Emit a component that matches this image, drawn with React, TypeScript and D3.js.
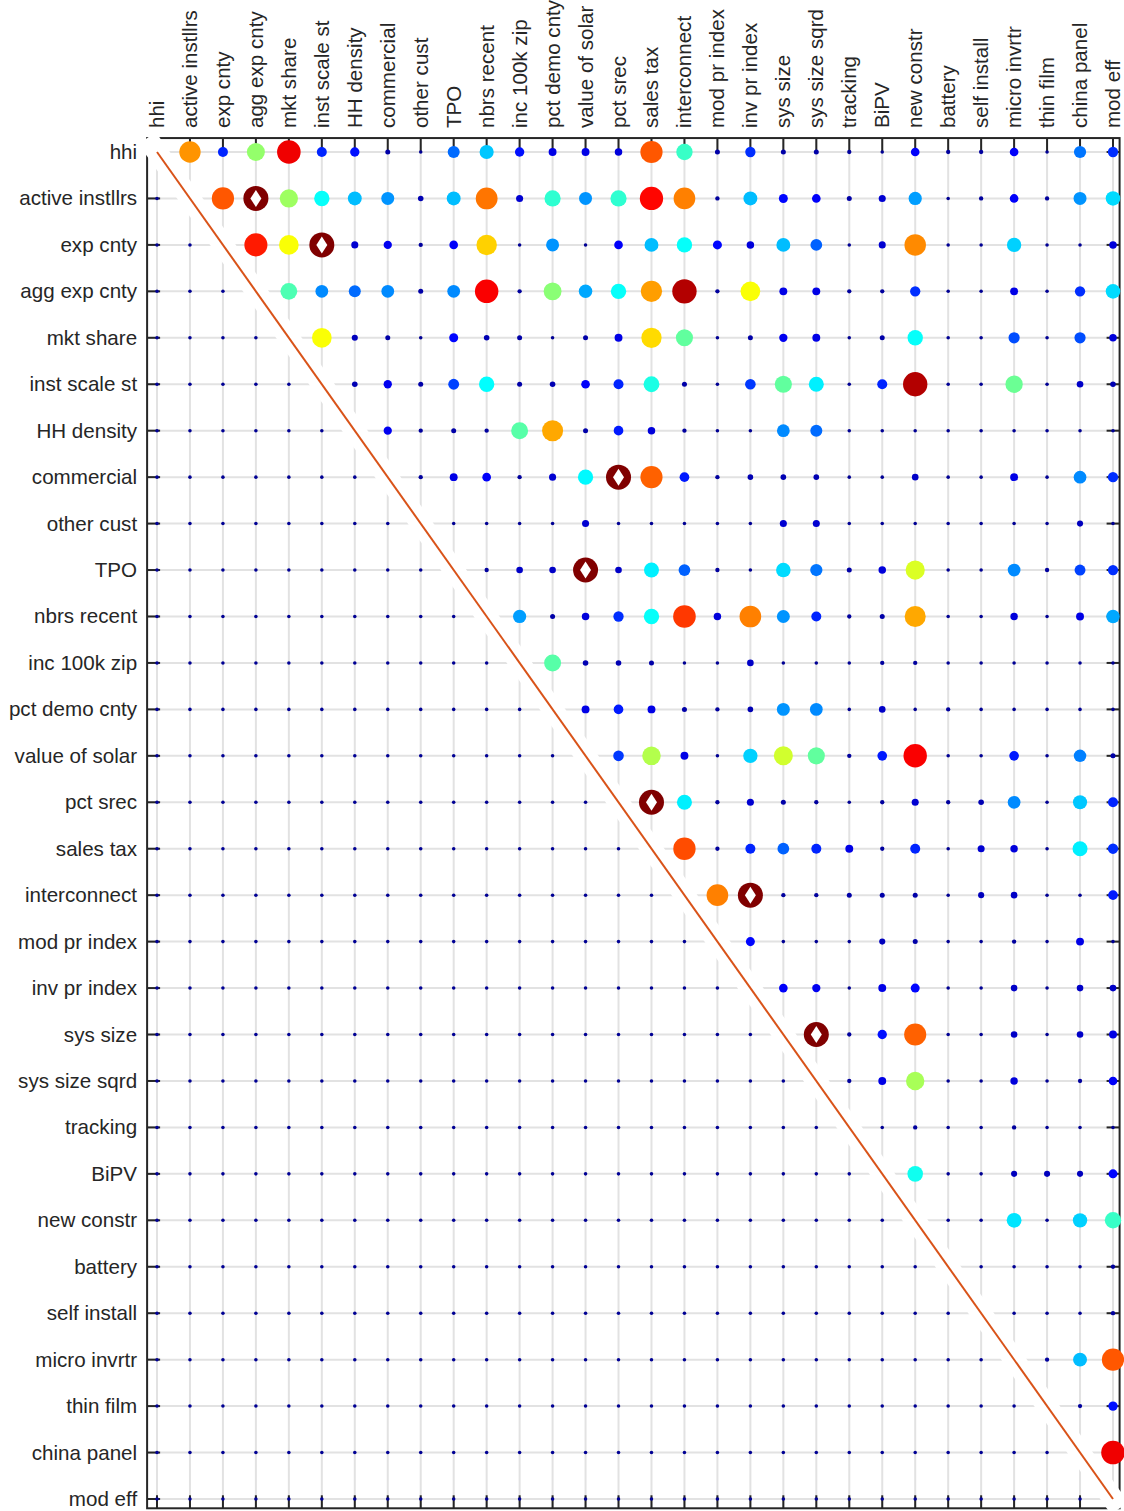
import React from 'react';
import * as d3 from 'd3';

const labels = [
  'hhi', 'active instllrs', 'exp cnty', 'agg exp cnty', 'mkt share', 'inst scale st',
  'HH density', 'commercial', 'other cust', 'TPO', 'nbrs recent', 'inc 100k zip',
  'pct demo cnty', 'value of solar', 'pct srec', 'sales tax', 'interconnect',
  'mod pr index', 'inv pr index', 'sys size', 'sys size sqrd', 'tracking', 'BiPV',
  'new constr', 'battery', 'self install', 'micro invrtr', 'thin film', 'china panel', 'mod eff',
];

// Upper-triangle values (row i, columns i+1..29); 1 = marked with diamond
const rowHhi = [.73, .16, .52, .89, .16, .14, .04, .02, .23, .32, .14, .1, .1, .09, .79, .43, .04, .17, .04, .04, .03, .02, .12, .03, .03, .12, .02, .24, .17];
const rowActive = [.79, 1, .53, .38, .31, .27, .05, .31, .76, .08, .42, .27, .42, .87, .75, .03, .31, .13, .12, .04, .08, .28, .02, .03, .12, .03, .27, .34];
const rowExp = [.85, .62, 1, .08, .11, .03, .12, .67, .02, .27, .02, .12, .31, .38, .13, .09, .31, .22, .02, .08, .74, .02, .02, .33, .02, .02, .09];
const rowAggExp = [.45, .26, .23, .26, .04, .26, .88, .03, .51, .29, .38, .72, .95, .03, .62, .1, .1, .03, .03, .17, .02, .02, .1, .02, .17, .34];
const rowMkt = [.62, .06, .04, .02, .13, .05, .04, .02, .04, .1, .66, .47, .02, .04, .11, .1, .02, .04, .38, .02, .02, .2, .02, .2, .09];
const rowInstScale = [.05, .11, .04, .19, .375, .04, .05, .12, .16, .4, .04, .02, .18, .47, .36, .02, .16, .95, .02, .02, .48, .02, .07, .05];
const rowHH = [.11, .03, .04, .03, .46, .71, .04, .15, .09, .03, .02, .02, .26, .23, .02, .02, .02, .02, .02, .02, .02, .02, .02];
const rowCommercial = [.03, .1, .12, .03, .08, .37, 1, .78, .15, .03, .05, .05, .05, .02, .02, .07, .02, .02, .1, .02, .26, .17];
const rowOther = [.02, .02, .02, .02, .08, .02, .02, .02, .02, .02, .08, .08, .02, .02, .02, .02, .02, .02, .02, .06, .02];
const rowTPO = [.03, .07, .07, 1, .07, .36, .22, .03, .02, .34, .24, .04, .09, .59, .02, .02, .26, .03, .19, .17];
const rowNbrs = [.28, .04, .09, .17, .38, .82, .09, .75, .27, .16, .03, .04, .71, .02, .02, .09, .02, .1, .29];
const rowInc = [.46, .05, .05, .04, .02, .02, .07, .02, .02, .02, .03, .03, .02, .02, .02, .02, .02, .02];
const rowPctDemo = [.1, .15, .1, .04, .03, .05, .27, .26, .02, .07, .02, .03, .02, .02, .02, .02, .02];
const rowValueSolar = [.18, .55, .1, .02, .33, .58, .47, .03, .15, .88, .02, .02, .15, .02, .25, .04];
const rowPctSrec = [1, .36, .03, .08, .04, .03, .02, .03, .08, .03, .05, .26, .02, .32, .16];
const rowSalesTax = [.8, .03, .16, .22, .16, .1, .03, .16, .02, .08, .09, .02, .36, .17];
const rowInterconnect = [.75, 1, .03, .03, .04, .04, .04, .02, .06, .07, .02, .02, .15];
const rowModPr = [.13, .02, .02, .02, .06, .04, .02, .02, .03, .02, .1, .02];
const rowInvPr = [.12, .11, .02, .1, .13, .02, .02, .07, .02, .07, .07];
const rowSysSize = [1, .03, .14, .78, .02, .02, .07, .02, .07, .1];
const rowSysSizeSq = [.03, .1, .54, .02, .02, .09, .02, .03, .12];
const rowTracking = [.02, .03, .02, .02, .03, .02, .02, .02];
const rowBiPV = [.39, .02, .02, .06, .06, .06, .13];
const rowNewConstr = [.02, .02, .35, .02, .33, .43];
const rowBattery = [.02, .02, .02, .02, .03];
const rowSelfInstall = [.02, .02, .02, .03];
const rowMicro = [.03, .31, .79];
const rowThinFilm = [.03, .14];
const rowChina = [.89];

const upperRows = [
  rowHhi, rowActive, rowExp, rowAggExp, rowMkt, rowInstScale, rowHH, rowCommercial,
  rowOther, rowTPO, rowNbrs, rowInc, rowPctDemo, rowValueSolar, rowPctSrec, rowSalesTax,
  rowInterconnect, rowModPr, rowInvPr, rowSysSize, rowSysSizeSq, rowTracking, rowBiPV,
  rowNewConstr, rowBattery, rowSelfInstall, rowMicro, rowThinFilm, rowChina,
];
const lowerValue = 0.02;

function clamp01(v: number) {
  return Math.max(0, Math.min(1, v));
}
function jet(v: number) {
  const r = clamp01(Math.min(4 * v - 1.5, -4 * v + 4.5));
  const g = clamp01(Math.min(4 * v - 0.5, -4 * v + 3.5));
  const b = clamp01(Math.min(4 * v + 0.5, -4 * v + 2.5));
  return d3.rgb(r * 255, g * 255, b * 255).formatHex();
}

export default function App() {
  const n = labels.length;
  const x = d3.scaleLinear().domain([0, n - 1]).range([157, 1113]);
  const y = d3.scaleLinear().domain([0, n - 1]).range([152, 1499]);
  const rScale = d3.scaleSqrt().domain([0, 1]).range([0, 12.5]);
  const x0 = x(-0.3), x1 = x(n - 1 + 0.2);
  const y0 = y(-0.3), y1 = y(n - 1 + 0.2);
  const tick = 13;
  const axisColor = '#262626';
  const font = '"Liberation Sans", Arial, Helvetica, sans-serif';
  const idx = d3.range(n);

  const cells: { i: number; j: number; v: number }[] = [];
  idx.forEach((i) => {
    idx.forEach((j) => {
      if (j > i) cells.push({ i, j, v: upperRows[i][j - i - 1] });
      else if (j < i) cells.push({ i, j, v: lowerValue });
    });
  });

  return (
    <svg width={1124} height={1511} style={{ position: 'absolute', left: 0, top: 0, background: '#fff' }}>
      <rect x={0} y={0} width={1124} height={1511} fill="#fff" />
      {/* grid */}
      <g stroke="#e2e2e2" strokeWidth={2}>
        {idx.map((i) => (
          <line key={'gv' + i} x1={x(i)} x2={x(i)} y1={y0} y2={y1} />
        ))}
        {idx.map((i) => (
          <line key={'gh' + i} x1={x0} x2={x1} y1={y(i)} y2={y(i)} />
        ))}
      </g>
      {/* box and ticks */}
      <g stroke={axisColor} strokeWidth={2} fill="none">
        <rect x={x0} y={y0} width={x1 - x0} height={y1 - y0} />
        {idx.map((i) => (
          <g key={'t' + i}>
            <line x1={x(i)} x2={x(i)} y1={y0} y2={y0 + tick} />
            <line x1={x(i)} x2={x(i)} y1={y1} y2={y1 - tick} />
            <line x1={x0} x2={x0 + tick} y1={y(i)} y2={y(i)} />
            <line x1={x1} x2={x1 - tick} y1={y(i)} y2={y(i)} />
          </g>
        ))}
      </g>
      {/* diagonal */}
      <line x1={x0} y1={y0} x2={x1} y2={y1} stroke="#fff" strokeWidth={21} />
      <line x1={x(0)} y1={y(0)} x2={x(n - 1)} y2={y(n - 1)} stroke="#d95319" strokeWidth={2} />
      {/* markers */}
      <g>
        {cells.map((c) => (
          <circle
            key={c.i + '-' + c.j}
            cx={x(c.j)}
            cy={y(c.i)}
            r={Math.max(1.6, rScale(c.v))}
            fill={jet(c.v)}
          />
        ))}
        {cells
          .filter((c) => c.v >= 1)
          .map((c) => {
            const cx = x(c.j), cy = y(c.i);
            return (
              <path
                key={'d' + c.i + '-' + c.j}
                d={`M${cx},${cy - 8.5}L${cx + 5.5},${cy}L${cx},${cy + 8.5}L${cx - 5.5},${cy}Z`}
                fill="#fff"
              />
            );
          })}
      </g>
      {/* labels */}
      <g fontFamily={font} fontSize={20.6} fill={axisColor}>
        {labels.map((l, i) => (
          <text key={'yl' + i} x={x0 - 10} y={y(i) + 7} textAnchor="end">
            {l}
          </text>
        ))}
        {labels.map((l, i) => (
          <text key={'xl' + i} transform={`translate(${x(i) + 7},${y0 - 10}) rotate(-90)`} textAnchor="start">
            {l}
          </text>
        ))}
      </g>
    </svg>
  );
}
